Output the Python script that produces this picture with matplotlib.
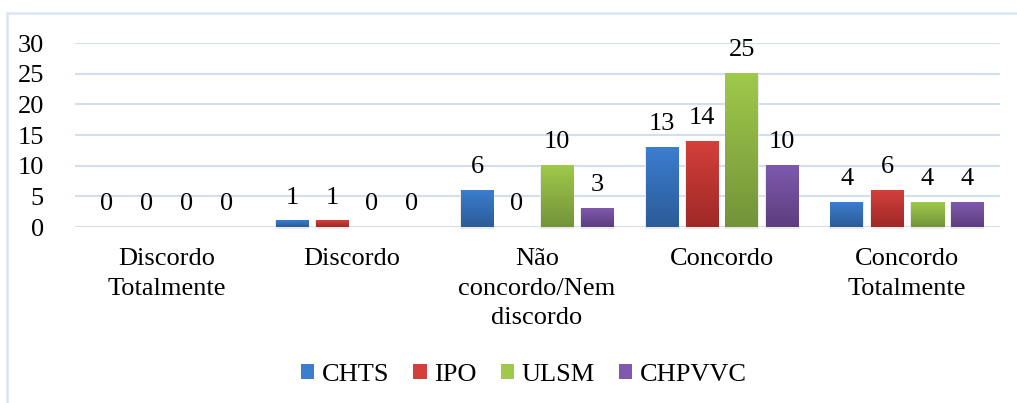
import numpy as np
import matplotlib.pyplot as plt
from matplotlib.colors import LinearSegmentedColormap
from matplotlib.patches import Rectangle

plt.rcParams['font.family'] = ['Liberation Serif', 'DejaVu Serif']

# Survey answers per hospital
categories = ['Discordo\nTotalmente', 'Discordo', 'Não\nconcordo/Nem\ndiscordo',
              'Concordo', 'Concordo\nTotalmente']
series = ['CHTS', 'IPO', 'ULSM', 'CHPVVC']
chts = [0, 1, 6, 13, 4]
ipo = [0, 1, 0, 14, 6]
ulsm = [0, 0, 10, 25, 4]
chpvvc = [0, 0, 3, 10, 4]
yticks = [0, 5, 10, 15, 20, 25, 30]

values = [chts, ipo, ulsm, chpvvc]
# (top, bottom) colours of the vertical gradient on each series
grads = [('#3b7dcf', '#2c5c98'),
         ('#d43f3b', '#9f2926'),
         ('#9fc94a', '#74933a'),
         ('#8058ad', '#5d3e80')]

FS = 19
W, H = 1017, 403
fig = plt.figure(figsize=(W / 100, H / 100), dpi=100)
ax = fig.add_axes([74.5 / W, 1 - 227 / H, 925 / W, 184 / H])

# light frame around the chart area
fig.add_artist(Rectangle((7 / W, -0.1), 1.2, (1 - 13 / H) + 0.1, transform=fig.transFigure,
                         fill=False, edgecolor='#dbe5f1', lw=1.8))

x = np.arange(len(categories))
bw = 33 / 185
step = 40 / 185

grad = np.linspace(1, 0, 64).reshape(-1, 1)
for i, (vals, name, (ctop, cbot)) in enumerate(zip(values, series, grads)):
    pos = x + (i - 1.5) * step
    bars = ax.bar(pos, vals, bw, color=ctop, label=name, zorder=3)
    cmap = LinearSegmentedColormap.from_list(name, [cbot, ctop])
    for b, v in zip(bars, vals):
        x0, w, h = b.get_x(), b.get_width(), b.get_height()
        if h > 0:
            ax.add_patch(Rectangle((x0 - 0.005, -0.3), w + 0.01, h + 0.3,
                                   facecolor='#ebebeb', edgecolor='none', zorder=2, clip_on=False))
            ax.imshow(grad, extent=[x0, x0 + w, 0, h], cmap=cmap, aspect='auto',
                      zorder=4, interpolation='bilinear')
        ax.annotate(str(v), (b.get_x() + w / 2, h), xytext=(0, 12.5),
                    textcoords='offset points', ha='center', va='baseline',
                    fontsize=FS, zorder=5)

ax.set_xlim(-0.5, len(categories) - 0.5)
ax.set_ylim(0, 30)
ax.set_yticks(yticks)
ax.set_xticks(x)
ax.set_xticklabels(categories, fontsize=FS, linespacing=1.46, va='top')
ax.tick_params(axis='y', labelsize=FS, length=0, pad=22)
ax.tick_params(axis='x', length=0, pad=15)
ax.grid(axis='y', color='#d3dfee', lw=1.5, zorder=0)
for s in ax.spines.values():
    s.set_visible(False)

leg = fig.legend(loc='center', bbox_to_anchor=(524 / W, 1 - 375 / H), ncol=4,
                 frameon=False, fontsize=FS, handlelength=0.5, handleheight=0.5,
                 handletextpad=0.3, columnspacing=0.9)

fig.savefig('out.png', dpi=100)
